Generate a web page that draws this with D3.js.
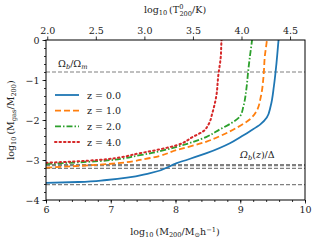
<!DOCTYPE html>
<html>
<head>
<meta charset="utf-8">
<script src="https://cdn.jsdelivr.net/npm/d3@7/dist/d3.min.js"></script>
<style>
  body { margin: 0; background: #fff; }
  text { font-family: "DejaVu Serif", "Liberation Serif", serif; fill: #222; }
</style>
</head>
<body>
<div id="chart"></div>
<script>
// values
var redshifts = ["0.0", "1.0", "2.0", "4.0"];
var colors = ["#1f77b4", "#ff7f0e", "#2ca02c", "#d62728"];
var dashes = [null, "6,3", "6,2,1.5,2", "1.5,3"];

var logM_z0 = [6.0, 6.5, 6.94, 7.61, 8.02, 8.48, 8.84, 9.05, 9.15, 9.31, 9.41, 9.47, 9.52, 9.56, 9.59, 9.61];
var gas_z0  = [-3.57, -3.55, -3.50, -3.33, -3.08, -2.83, -2.58, -2.38, -2.28, -2.11, -1.94, -1.65, -1.15, -0.57, -0.03, 0.3];
var logM_z1 = [6.0, 6.8, 7.61, 8.02, 8.48, 8.69, 8.95, 9.15, 9.25, 9.32, 9.36, 9.38, 9.41, 9.43];
var gas_z1  = [-3.19, -3.12, -2.95, -2.75, -2.54, -2.40, -2.19, -1.98, -1.78, -1.40, -0.90, -0.40, -0.03, 0.3];
var logM_z2 = [6.0, 6.8, 7.45, 8.02, 8.48, 8.69, 8.87, 9.00, 9.05, 9.10, 9.12, 9.15, 9.18, 9.20];
var gas_z2  = [-3.10, -3.03, -2.88, -2.67, -2.42, -2.23, -2.07, -1.90, -1.65, -1.15, -0.82, -0.40, -0.03, 0.3];
var logM_z4 = [6.0, 6.8, 7.45, 8.02, 8.27, 8.43, 8.51, 8.57, 8.63, 8.66, 8.70, 8.71, 8.73];
var gas_z4  = [-3.07, -3.00, -2.83, -2.63, -2.42, -2.28, -2.11, -1.82, -1.40, -0.90, -0.40, -0.03, 0.3];

// reference levels: Omega_b/Omega_m and Omega_b(z)/Delta for each z
var cosmicLevel = -0.80;
var deltaLevels = [-3.614, -3.211, -3.140, -3.113];

var massTicks = [6, 7, 8, 9, 10];
var gasTicks = [-4, -3, -2, -1, 0];
var tempTicks = [2.0, 2.5, 3.0, 3.5, 4.0, 4.5];
var massDomain = [6, 10];
var gasDomain = [-4, 0];
var tempDomain = [1.987, 4.654];

var W = 315, H = 243;
var m = { left: 46, right: 10, top: 40, bottom: 43 };

var svg = d3.select("#chart").append("svg")
    .attr("width", W).attr("height", H);

var x = d3.scaleLinear().domain(massDomain).range([m.left, W - m.right]);
var xt = d3.scaleLinear().domain(tempDomain).range([m.left, W - m.right]);
var y = d3.scaleLinear().domain(gasDomain).range([H - m.bottom, m.top]);

svg.append("clipPath").attr("id", "clip")
  .append("rect")
    .attr("x", m.left).attr("y", m.top)
    .attr("width", W - m.left - m.right).attr("height", H - m.top - m.bottom);

// horizontal reference lines
var plot = svg.append("g").attr("clip-path", "url(#clip)");
[cosmicLevel].concat(deltaLevels).forEach(function(v) {
  plot.append("line")
      .attr("x1", x(massDomain[0])).attr("x2", x(massDomain[1]))
      .attr("y1", y(v)).attr("y2", y(v))
      .attr("stroke", "#808080").attr("stroke-width", 1.2)
      .attr("stroke-dasharray", "4,2");
});

var series = [
  d3.zip(logM_z0, gas_z0),
  d3.zip(logM_z1, gas_z1),
  d3.zip(logM_z2, gas_z2),
  d3.zip(logM_z4, gas_z4)
];

var line = d3.line()
    .x(function(d) { return x(d[0]); })
    .y(function(d) { return y(d[1]); })
    .curve(d3.curveMonotoneY);

series.forEach(function(s, i) {
  plot.append("path")
      .datum(s)
      .attr("d", line)
      .attr("fill", "none")
      .attr("stroke", colors[i])
      .attr("stroke-width", i == 3 ? 2 : 1.8)
      .attr("stroke-linecap", i == 3 ? "round" : "butt")
      .attr("stroke-dasharray", dashes[i]);
});

// axes
function styleAxis(g) {
  g.select(".domain").remove();
  g.selectAll("line").attr("stroke", "#000").attr("stroke-width", 0.8);
  g.selectAll("text").attr("font-size", 9.5).attr("fill", "#222")
      .style("font-family", '"DejaVu Serif", serif');
}

svg.append("g")
    .attr("transform", "translate(0," + (H - m.bottom) + ")")
    .call(d3.axisBottom(x).tickValues(d3.range(6, 10.01, 0.2)).tickSize(2).tickFormat(""))
    .call(styleAxis);
svg.append("g")
    .attr("transform", "translate(0," + (H - m.bottom) + ")")
    .call(d3.axisBottom(x).tickValues(massTicks).tickSize(3.5).tickPadding(3).tickFormat(d3.format("d")))
    .call(styleAxis);

svg.append("g")
    .attr("transform", "translate(" + m.left + ",0)")
    .call(d3.axisLeft(y).tickValues(d3.range(-4, 0.01, 0.2)).tickSize(2).tickFormat(""))
    .call(styleAxis);
svg.append("g")
    .attr("transform", "translate(" + m.left + ",0)")
    .call(d3.axisLeft(y).tickValues(gasTicks).tickSize(3.5).tickPadding(3).tickFormat(d3.format("d")))
    .call(styleAxis);

svg.append("g")
    .attr("transform", "translate(0," + m.top + ")")
    .call(d3.axisTop(xt).tickValues(tempTicks).tickSize(3.5).tickPadding(3).tickFormat(d3.format(".1f")))
    .call(styleAxis);

// frame
svg.append("rect")
    .attr("x", m.left).attr("y", m.top)
    .attr("width", W - m.left - m.right).attr("height", H - m.top - m.bottom)
    .attr("fill", "none").attr("stroke", "#000").attr("stroke-width", 1);

// axis titles
function sub(t, s, dy) {
  t.append("tspan").attr("baseline-shift", dy || "-25%").attr("font-size", "70%").text(s);
}

var bt = svg.append("text").attr("x", 175).attr("y", 235)
    .attr("text-anchor", "middle").attr("font-size", 9.5);
bt.append("tspan").text("log");
sub(bt, "10");
bt.append("tspan").text("\u2009(M");
sub(bt, "200");
bt.append("tspan").text("/M");
sub(bt, "\u2299");
bt.append("tspan").text("h");
sub(bt, "\u22121", "40%");
bt.append("tspan").text(")");

var tt = svg.append("text").attr("x", 175).attr("y", 13)
    .attr("text-anchor", "middle").attr("font-size", 9.5);
tt.append("tspan").text("log");
sub(tt, "10");
tt.append("tspan").text("\u2009(T");
tt.append("tspan").attr("font-size", "70%").attr("dy", -4).text("0");
tt.append("tspan").attr("font-size", "70%").attr("dx", -4).attr("dy", 7).text("200");
tt.append("tspan").attr("dy", -3).text("/K)");

var lt = svg.append("text")
    .attr("transform", "translate(14," + ((m.top + H - m.bottom) / 2) + ") rotate(-90)")
    .attr("text-anchor", "middle").attr("font-size", 9.5);
lt.append("tspan").text("log");
sub(lt, "10");
lt.append("tspan").text("\u2009(M");
sub(lt, "gas");
lt.append("tspan").text("/M");
sub(lt, "200");
lt.append("tspan").text(")");

// level labels
var l1 = svg.append("text").attr("x", 58).attr("y", 67).attr("font-size", 9.5).attr("fill", "#333");
l1.append("tspan").text("\u03a9");
sub(l1, "b");
l1.append("tspan").text("/\u03a9");
sub(l1, "m");
l1.selectAll("tspan").filter(function(d, i) { return i == 1 || i == 3; }).attr("font-style", "italic");

var l2 = svg.append("text").attr("x", 240).attr("y", 158).attr("font-size", 9.5).attr("fill", "#333");
l2.append("tspan").text("\u03a9");
sub(l2, "b");
l2.selectAll("tspan").attr("font-style", "italic");
l2.append("tspan").text("(");
l2.append("tspan").attr("font-style", "italic").text("z");
l2.append("tspan").text(")/\u0394");

// legend
var leg = svg.append("g");
redshifts.forEach(function(z, i) {
  var yy = 95 + i * 15.7;
  leg.append("line")
      .attr("x1", 55).attr("x2", 79).attr("y1", yy).attr("y2", yy)
      .attr("stroke", colors[i]).attr("stroke-width", i == 3 ? 2 : 1.8)
      .attr("stroke-linecap", i == 3 ? "round" : "butt")
      .attr("stroke-dasharray", dashes[i]);
  leg.append("text").attr("x", 87).attr("y", yy + 3.5)
      .attr("font-size", 9.5).text("z = " + z);
});
</script>
</body>
</html>
